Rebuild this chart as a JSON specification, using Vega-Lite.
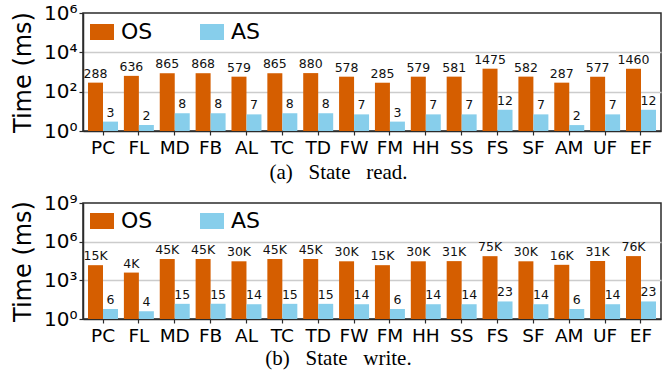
{
  "$schema": "https://vega.github.io/schema/vega-lite/v6.json",
  "padding": {"left": 10, "top": 2, "right": 5, "bottom": 2},
  "spacing": 9,
  "config": {
    "font": "DejaVu Sans",
    "view": {"stroke": "#2b2b2b", "strokeWidth": 1.5},
    "axis": {"domain": true, "domainColor": "#2b2b2b", "domainWidth": 1.5, "labelColor": "#000000", "titleColor": "#000000", "tickColor": "#2b2b2b", "tickWidth": 1.2, "tickSize": 4, "labelOverlap": false, "labelBound": false, "labelFlush": false}
  },
  "resolve": {"scale": {"y": "independent", "x": "independent"}, "legend": {"color": "independent"}},
  "vconcat": [
    {
      "width": 578,
      "height": 118,
      "data": {"values": [
        {"app": "PC", "sys": "OS", "v": 288, "label": "288"}, {"app": "PC", "sys": "AS", "v": 3, "label": "3"},
        {"app": "FL", "sys": "OS", "v": 636, "label": "636"}, {"app": "FL", "sys": "AS", "v": 2, "label": "2"},
        {"app": "MD", "sys": "OS", "v": 865, "label": "865"}, {"app": "MD", "sys": "AS", "v": 8, "label": "8"},
        {"app": "FB", "sys": "OS", "v": 868, "label": "868"}, {"app": "FB", "sys": "AS", "v": 8, "label": "8"},
        {"app": "AL", "sys": "OS", "v": 579, "label": "579"}, {"app": "AL", "sys": "AS", "v": 7, "label": "7"},
        {"app": "TC", "sys": "OS", "v": 865, "label": "865"}, {"app": "TC", "sys": "AS", "v": 8, "label": "8"},
        {"app": "TD", "sys": "OS", "v": 880, "label": "880"}, {"app": "TD", "sys": "AS", "v": 8, "label": "8"},
        {"app": "FW", "sys": "OS", "v": 578, "label": "578"}, {"app": "FW", "sys": "AS", "v": 7, "label": "7"},
        {"app": "FM", "sys": "OS", "v": 285, "label": "285"}, {"app": "FM", "sys": "AS", "v": 3, "label": "3"},
        {"app": "HH", "sys": "OS", "v": 579, "label": "579"}, {"app": "HH", "sys": "AS", "v": 7, "label": "7"},
        {"app": "SS", "sys": "OS", "v": 581, "label": "581"}, {"app": "SS", "sys": "AS", "v": 7, "label": "7"},
        {"app": "FS", "sys": "OS", "v": 1475, "label": "1475"}, {"app": "FS", "sys": "AS", "v": 12, "label": "12"},
        {"app": "SF", "sys": "OS", "v": 582, "label": "582"}, {"app": "SF", "sys": "AS", "v": 7, "label": "7"},
        {"app": "AM", "sys": "OS", "v": 287, "label": "287"}, {"app": "AM", "sys": "AS", "v": 2, "label": "2"},
        {"app": "UF", "sys": "OS", "v": 577, "label": "577"}, {"app": "UF", "sys": "AS", "v": 7, "label": "7"},
        {"app": "EF", "sys": "OS", "v": 1460, "label": "1460"}, {"app": "EF", "sys": "AS", "v": 12, "label": "12"}
      ]},
      "encoding": {
        "x": {"field": "app", "type": "nominal", "sort": null,
          "scale": {"paddingInner": 0.164, "paddingOuter": 0.14},
          "axis": {"labelAngle": 0, "labelFontSize": 18.5, "labelPadding": 3,
            "title": "(a) \u2002State \u2002read.", "titleFont": "Liberation Serif", "titleFontSize": 21, "titleFontWeight": "normal",
            "titleX": 255, "titleY": 47, "titleBaseline": "alphabetic", "titleAlign": "center"}},
        "xOffset": {"field": "sys", "type": "nominal", "sort": ["OS", "AS"], "scale": {"paddingInner": 0, "paddingOuter": 0}},
        "y": {"field": "v", "type": "quantitative", "stack": null,
          "scale": {"type": "log", "domain": [1, 1000000], "nice": false},
          "axis": {"values": [1, 100, 10000, 1000000],
            "labelExpr": "'10' + ['⁰','¹','²','³','⁴','⁵','⁶','⁷','⁸','⁹'][round(log(datum.value)/LN10)]",
            "labelFontSize": 20, "labelPadding": 2,
            "grid": true, "gridColor": "#cccccc", "gridWidth": 1.5,
            "gridOpacity": {"condition": {"test": "datum.value <= 1 || datum.value >= 1000000", "value": 0}, "value": 1},
            "title": "Time (ms)", "titleFontSize": 24, "titleFontWeight": "normal", "titlePadding": 8}},
        "color": {"field": "sys", "type": "nominal",
          "scale": {"domain": ["OS", "AS"], "range": ["#D55E00", "#87CEEB"]},
          "legend": {"orient": "none", "legendX": 7, "legendY": 7, "direction": "horizontal", "title": null,
            "symbolType": "M-1,-0.667L1,-0.667L1,0.667L-1,0.667Z", "symbolSize": 576, "symbolStrokeWidth": 0, "symbolOpacity": 1,
            "labelFontSize": 22, "labelOffset": 7, "columnPadding": 47, "labelColor": "#000000"}}
      },
      "layer": [
        {"mark": {"type": "bar"}, "encoding": {"y2": {"datum": 1}}},
        {"mark": {"type": "text", "baseline": "bottom", "dy": -2, "fontSize": 12.5, "color": "#111111"},
          "encoding": {"text": {"field": "label"}, "color": {"value": "#111111"}}}
      ]
    },
    {
      "width": 578,
      "height": 116,
      "data": {"values": [
        {"app": "PC", "sys": "OS", "v": 15000, "label": "15K"}, {"app": "PC", "sys": "AS", "v": 6, "label": "6"},
        {"app": "FL", "sys": "OS", "v": 4000, "label": "4K"}, {"app": "FL", "sys": "AS", "v": 4, "label": "4"},
        {"app": "MD", "sys": "OS", "v": 45000, "label": "45K"}, {"app": "MD", "sys": "AS", "v": 15, "label": "15"},
        {"app": "FB", "sys": "OS", "v": 45000, "label": "45K"}, {"app": "FB", "sys": "AS", "v": 15, "label": "15"},
        {"app": "AL", "sys": "OS", "v": 30000, "label": "30K"}, {"app": "AL", "sys": "AS", "v": 14, "label": "14"},
        {"app": "TC", "sys": "OS", "v": 45000, "label": "45K"}, {"app": "TC", "sys": "AS", "v": 15, "label": "15"},
        {"app": "TD", "sys": "OS", "v": 45000, "label": "45K"}, {"app": "TD", "sys": "AS", "v": 15, "label": "15"},
        {"app": "FW", "sys": "OS", "v": 30000, "label": "30K"}, {"app": "FW", "sys": "AS", "v": 14, "label": "14"},
        {"app": "FM", "sys": "OS", "v": 15000, "label": "15K"}, {"app": "FM", "sys": "AS", "v": 6, "label": "6"},
        {"app": "HH", "sys": "OS", "v": 30000, "label": "30K"}, {"app": "HH", "sys": "AS", "v": 14, "label": "14"},
        {"app": "SS", "sys": "OS", "v": 31000, "label": "31K"}, {"app": "SS", "sys": "AS", "v": 14, "label": "14"},
        {"app": "FS", "sys": "OS", "v": 75000, "label": "75K"}, {"app": "FS", "sys": "AS", "v": 23, "label": "23"},
        {"app": "SF", "sys": "OS", "v": 30000, "label": "30K"}, {"app": "SF", "sys": "AS", "v": 14, "label": "14"},
        {"app": "AM", "sys": "OS", "v": 16000, "label": "16K"}, {"app": "AM", "sys": "AS", "v": 6, "label": "6"},
        {"app": "UF", "sys": "OS", "v": 31000, "label": "31K"}, {"app": "UF", "sys": "AS", "v": 14, "label": "14"},
        {"app": "EF", "sys": "OS", "v": 76000, "label": "76K"}, {"app": "EF", "sys": "AS", "v": 23, "label": "23"}
      ]},
      "encoding": {
        "x": {"field": "app", "type": "nominal", "sort": null,
          "scale": {"paddingInner": 0.164, "paddingOuter": 0.14},
          "axis": {"labelAngle": 0, "labelFontSize": 18.5, "labelPadding": 3,
            "title": "(b) \u2002State \u2002write.", "titleFont": "Liberation Serif", "titleFontSize": 21, "titleFontWeight": "normal",
            "titleX": 255, "titleY": 45, "titleBaseline": "alphabetic", "titleAlign": "center"}},
        "xOffset": {"field": "sys", "type": "nominal", "sort": ["OS", "AS"], "scale": {"paddingInner": 0, "paddingOuter": 0}},
        "y": {"field": "v", "type": "quantitative", "stack": null,
          "scale": {"type": "log", "domain": [1, 1000000000], "nice": false},
          "axis": {"values": [1, 1000, 1000000, 1000000000],
            "labelExpr": "'10' + ['⁰','¹','²','³','⁴','⁵','⁶','⁷','⁸','⁹'][round(log(datum.value)/LN10)]",
            "labelFontSize": 20, "labelPadding": 2,
            "grid": true, "gridColor": "#cccccc", "gridWidth": 1.5,
            "gridOpacity": {"condition": {"test": "datum.value <= 1 || datum.value >= 1000000000", "value": 0}, "value": 1},
            "title": "Time (ms)", "titleFontSize": 24, "titleFontWeight": "normal", "titlePadding": 8}},
        "color": {"field": "sys", "type": "nominal",
          "scale": {"domain": ["OS", "AS"], "range": ["#D55E00", "#87CEEB"]},
          "legend": {"orient": "none", "legendX": 7, "legendY": 6, "direction": "horizontal", "title": null,
            "symbolType": "M-1,-0.667L1,-0.667L1,0.667L-1,0.667Z", "symbolSize": 576, "symbolStrokeWidth": 0, "symbolOpacity": 1,
            "labelFontSize": 22, "labelOffset": 7, "columnPadding": 47, "labelColor": "#000000"}}
      },
      "layer": [
        {"mark": {"type": "bar"}, "encoding": {"y2": {"datum": 1}}},
        {"mark": {"type": "text", "baseline": "bottom", "dy": -2, "fontSize": 12.5, "color": "#111111"},
          "encoding": {"text": {"field": "label"}, "color": {"value": "#111111"}}}
      ]
    }
  ]
}
